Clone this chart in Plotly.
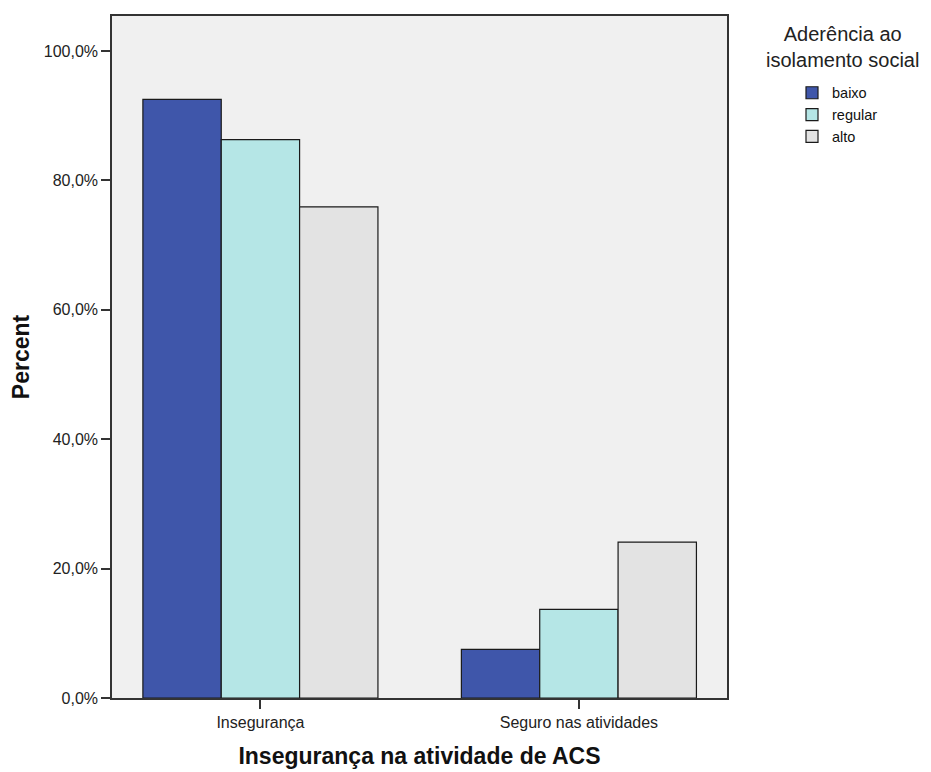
import plotly.graph_objects as go

categories = ["Insegurança", "Seguro nas atividades"]
series_names = ["baixo", "regular", "alto"]
baixo = [92.5, 7.5]
regular = [86.3, 13.7]
alto = [75.9, 24.1]
colors = ["#3F56AA", "#B5E6E6", "#E3E3E3"]
y_ticks = [0, 20, 40, 60, 80, 100]
y_tick_labels = ["0,0%", "20,0%", "40,0%", "60,0%", "80,0%", "100,0%"]
legend_title = "Aderência ao<br>isolamento social"

xpos = list(range(len(categories)))
fig = go.Figure()
for name, vals, col in zip(series_names, [baixo, regular, alto], colors):
    fig.add_trace(go.Bar(
        x=xpos, y=vals, name=name,
        marker=dict(color=col, line=dict(color="#1a1a1a", width=1.2)),
    ))

OFF = 8  # page body offset
W, H = 931 - OFF, 772 - OFF
L, R, T, B = 112 - OFF, 931 - 727, 14 - OFF, 772 - 698
FONT = "Liberation Sans, Arial, sans-serif"
fig.update_layout(
    width=W, height=H,
    margin=dict(l=L, r=R, t=T, b=B, pad=0),
    barmode="group", bargap=0.262, bargroupgap=0,
    plot_bgcolor="#F0F0F0", paper_bgcolor="white",
    font=dict(family=FONT, color="#222222"),
    showlegend=True,
    legend=dict(
        x=(792 - 112) / 615, xanchor="left",
        y=(698 - 75) / 684, yanchor="top",
        font=dict(size=14.5, color="#111111"),
        bgcolor="rgba(0,0,0,0)", tracegroupgap=0, itemwidth=30,
    ),
    annotations=[dict(
        text=legend_title, xref="paper", yref="paper",
        x=(842 - 112) / 615, y=(698 - 19) / 684,
        xanchor="center", yanchor="top", align="center", showarrow=False,
        font=dict(family=FONT, size=20, color="#222222"),
    )],
)
fig.update_xaxes(
    tickmode="array", tickvals=xpos, ticktext=categories,
    range=[-0.466, 1.465],
    showline=True, linecolor="#333333", linewidth=1.5, mirror=True,
    ticks="outside", ticklen=9, tickwidth=1.5, tickcolor="#333333",
    showgrid=False, zeroline=False,
    tickfont=dict(size=16, color="#222222"),
    title=dict(text="<b>Insegurança na atividade de ACS</b>",
               font=dict(size=23, color="#111111"), standoff=18),
)
fig.update_yaxes(
    range=[0, 100 * (698 - 14) / 649],
    tickmode="array", tickvals=y_ticks, ticktext=y_tick_labels,
    showline=True, linecolor="#333333", linewidth=1.5, mirror=True,
    ticks="outside", ticklen=9, tickwidth=1.5, tickcolor="#333333",
    showgrid=False, zeroline=False,
    tickfont=dict(size=16, color="#222222"),
    title=dict(text="<b>Percent</b>", font=dict(size=23, color="#111111"), standoff=10),
)

fig.write_html("out.html")
